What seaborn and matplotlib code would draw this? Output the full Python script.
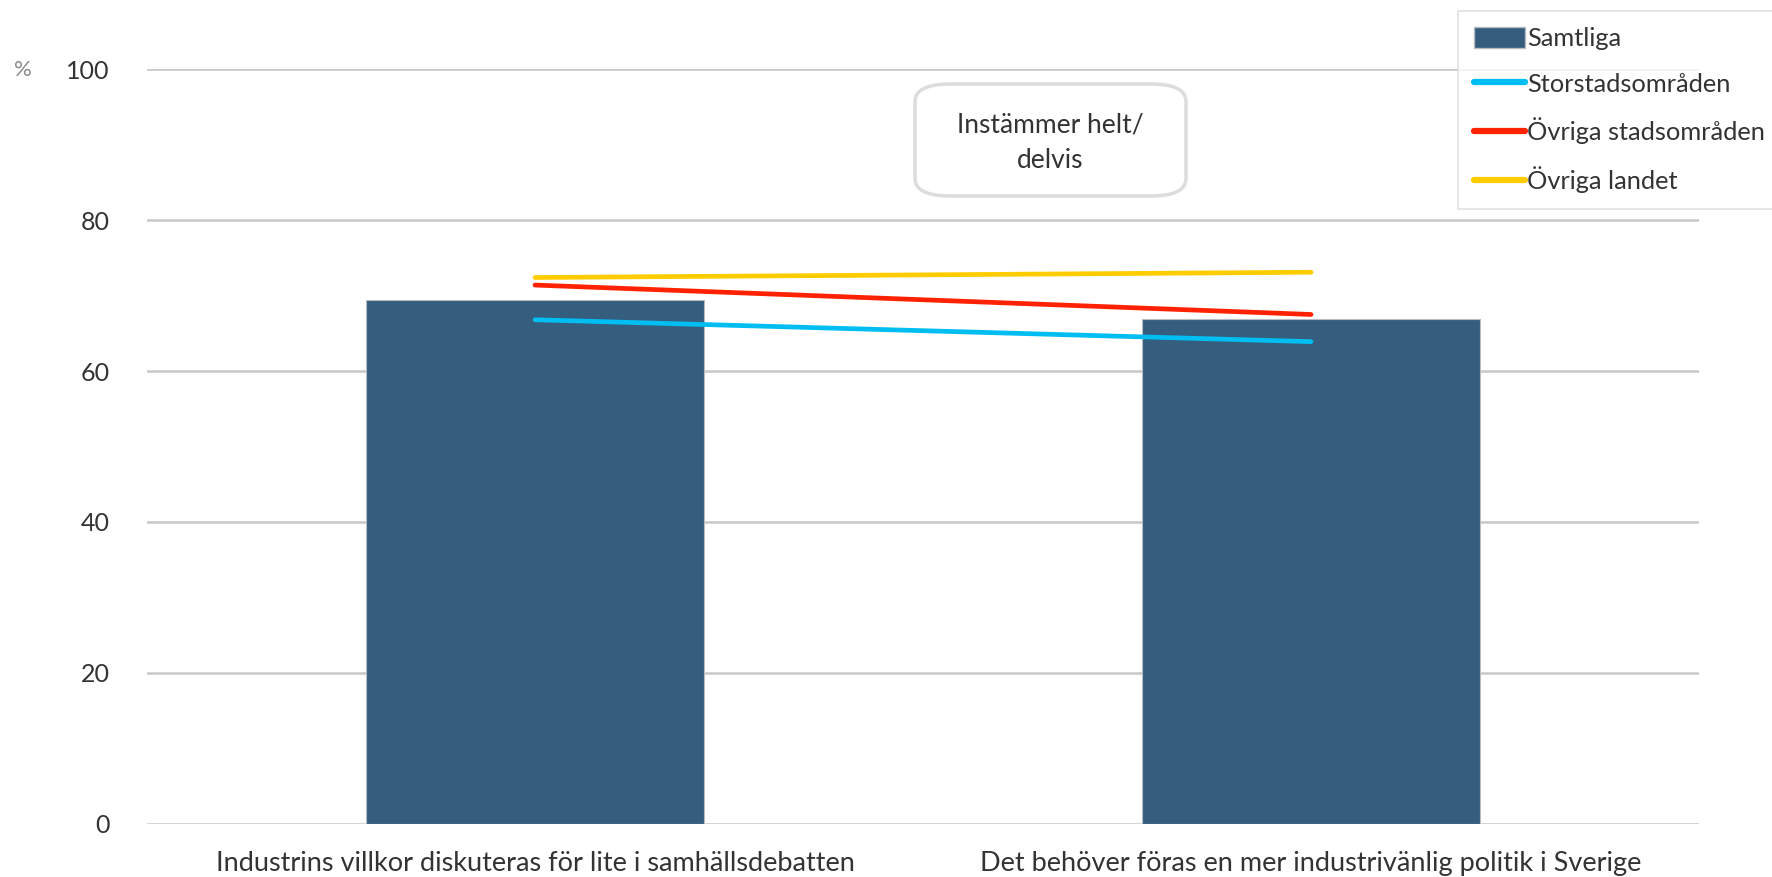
import numpy as np
import pandas as pd
import matplotlib
matplotlib.use("Agg")
import matplotlib.pyplot as plt
from matplotlib.patches import Patch, FancyBboxPatch
from matplotlib.lines import Line2D
import seaborn as sns

categories = ["Industrins villkor diskuteras för lite i samhällsdebatten",
              "Det behöver föras en mer industrivänlig politik i Sverige"]
samtliga = [69.4, 66.9]
storstad = [66.8, 63.9]
ovriga_stad = [71.4, 67.5]
ovriga_landet = [72.4, 73.1]
yticks = [0, 20, 40, 60, 80, 100]

sns.set_theme(style="white")
plt.rcParams['font.family'] = ['Lato', 'DejaVu Sans']

W, H = 1772, 877
fig = plt.figure(figsize=(W / 100, H / 100), dpi=100)
ax = fig.add_axes([147 / W, 1 - 823.7 / H, (1699 - 147) / W, (823.7 - 69.3) / H])

df = pd.DataFrame({"cat": categories, "val": samtliga})
sns.barplot(data=df, x="cat", y="val", color="#345D7E", saturation=1,
            width=0.435, edgecolor="#b8bcc0", linewidth=0.8, ax=ax, zorder=2)

xs = np.arange(len(categories))
series = [(storstad, "#00BDF2", "Storstadsområden"),
          (ovriga_stad, "#FF2200", "Övriga stadsområden"),
          (ovriga_landet, "#FFCC00", "Övriga landet")]
for vals, col, lab in series:
    sns.lineplot(x=xs, y=vals, color=col, linewidth=3.4, ax=ax,
                 solid_capstyle="round", zorder=3)

ax.set_xlim(-0.5, 1.5)
ax.set_ylim(0, 100)
ax.set_yticks(yticks)
ax.set_yticklabels([str(v) for v in yticks])
ax.set_xlabel("")
ax.set_ylabel("")
for s in ax.spines.values():
    s.set_visible(False)
ax.yaxis.grid(True, color="#c8c8c8", linewidth=1.8, zorder=0)
ax.set_axisbelow(True)
ax.tick_params(axis="y", length=0, pad=27, labelsize=18, labelcolor="#333333")
ax.tick_params(axis="x", length=0, pad=20, labelsize=19.5, labelcolor="#333333")

fig.text(23 / W, 1 - 70 / H, "%", fontsize=16, color="#888888",
         ha="center", va="center")

# Annotation box
box = FancyBboxPatch((915 / W, 1 - 196 / H), (1186 - 915) / W, (196 - 84) / H,
                     boxstyle="round,pad=0,rounding_size=0.02",
                     transform=fig.transFigure, facecolor="white",
                     edgecolor="#dcdcdc", linewidth=2.5, zorder=5)
fig.patches.append(box)
fig.text(1050 / W, 1 - 143 / H, "Instämmer helt/\ndelvis", fontsize=19,
         color="#333333", ha="center", va="center", linespacing=1.55, zorder=6)

handles = [Patch(facecolor="#345D7E", edgecolor="#b8bcc0", label="Samtliga")]
for vals, col, lab in series:
    handles.append(Line2D([0], [0], color=col, linewidth=4.5,
                          solid_capstyle="round", label=lab))
leg = fig.legend(handles=handles, loc="upper left",
                 bbox_to_anchor=(1458 / W, 1 - 11 / H),
                 fontsize=18.3, frameon=True, fancybox=False,
                 handlelength=2.0, handletextpad=0.1, labelspacing=0.87,
                 borderpad=0.62, borderaxespad=0, handleheight=0.9)
leg.get_frame().set_edgecolor("#d8d8d8")
leg.get_frame().set_linewidth(1.2)
for t in leg.get_texts():
    t.set_color("#333333")

fig.savefig("out.png", dpi=100)
